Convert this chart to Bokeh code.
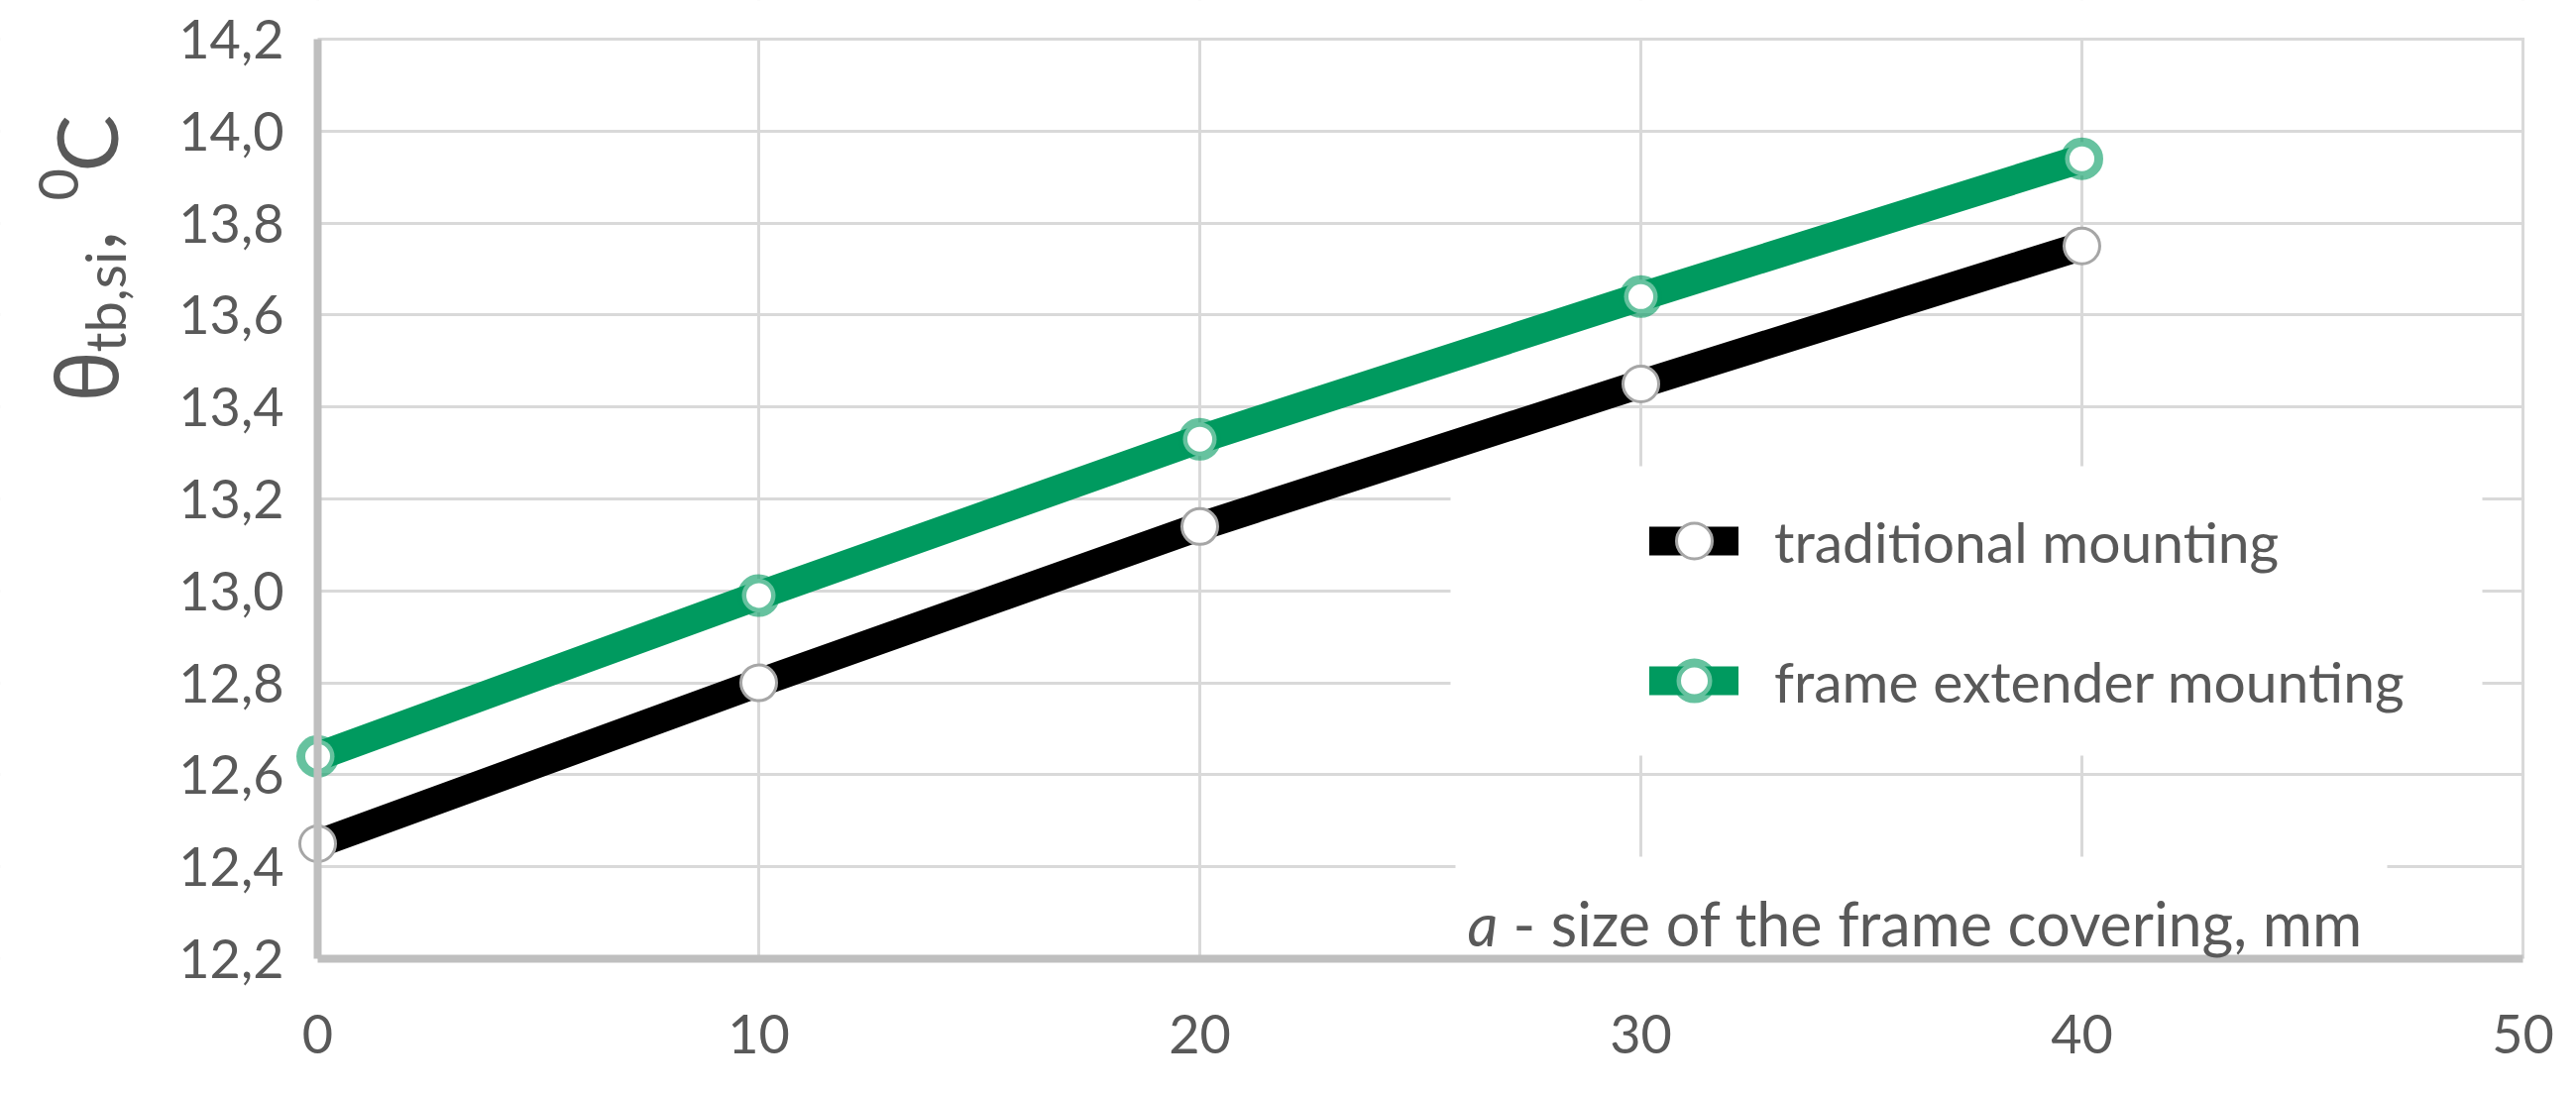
import math
from bokeh.plotting import figure
from bokeh.models import FixedTicker, CustomJSTickFormatter, Label, BoxAnnotation
from bokeh.embed import file_html
from bokeh.resources import INLINE

# ---- data ----
size_mm = [0, 10, 20, 30, 40]
theta_traditional = [12.45, 12.80, 13.14, 13.45, 13.75]
theta_extender = [12.64, 12.99, 13.33, 13.64, 13.94]
series_labels = ["traditional mounting", "frame extender mounting"]
x_ticks = [0, 10, 20, 30, 40, 50]
y_ticks = [12.2, 12.4, 12.6, 12.8, 13.0, 13.2, 13.4, 13.6, 13.8, 14.0, 14.2]
x_title = "- size of the frame covering, mm"

# ---- layout (page pixels of the value box) ----
W, H = 2580, 1088
OFF = 8
PX_L, PX_R, PY_T, PY_B = 328, 2553, 47, 975     # x=0, x=50, y=14.2, y=12.2
XA, XB, YA, YB = 0, 50, 12.2, 14.2
ux = (PX_R - PX_L) / (XB - XA)
uy = (PY_B - PY_T) / (YB - YA)
XMIN = XA - (PX_L - OFF) / ux
XMAX = XB + (OFF + W - PX_R) / ux
YMAX = YB + (PY_T - OFF) / uy
YMIN = YA - (OFF + H - PY_B) / uy

def dx(px):
    return XA + (px - PX_L) / ux

def dy(py):
    return YB - (py - PY_T) / uy

TXT = "#595959"
FONT = "Lato"

p = figure(width=W, height=H, x_range=(XMIN, XMAX), y_range=(YMIN, YMAX),
           output_backend="svg", toolbar_location=None,
           min_border_left=0, min_border_right=0, min_border_top=0, min_border_bottom=0)
p.outline_line_color = None
p.background_fill_color = "white"
p.border_fill_color = "white"

for ax, ticks in ((p.xaxis, x_ticks), (p.yaxis, y_ticks)):
    ax.ticker = FixedTicker(ticks=ticks)
    ax.axis_line_color = "#BFBFBF"
    ax.axis_line_width = 8
    ax.major_tick_in = 0
    ax.major_tick_out = 0
    ax.minor_tick_in = 0
    ax.minor_tick_out = 0
    ax.major_label_text_font = FONT
    ax.major_label_text_font_size = "54px"
    ax.major_label_text_color = TXT
p.yaxis.formatter = CustomJSTickFormatter(code="return tick.toFixed(1).replace('.', ',');")
p.yaxis.fixed_location = XA
p.xaxis.fixed_location = YA
p.xaxis.bounds = (XA, XB)
p.yaxis.bounds = (YA, YB)
p.xaxis.major_label_standoff = 56
p.yaxis.major_label_standoff = 34

p.xgrid.ticker = FixedTicker(ticks=x_ticks)
p.ygrid.ticker = FixedTicker(ticks=y_ticks)
for g in (p.xgrid, p.ygrid):
    g.grid_line_color = "#D9D9D9"
    g.grid_line_width = 3

def white_box(left, right, top, bottom):
    p.add_layout(BoxAnnotation(left=left, right=right, top=top, bottom=bottom,
                               fill_color="white", fill_alpha=1, line_color=None,
                               level="underlay"))

e = 1.6  # px
# hide gridlines outside the value box
white_box(XMIN - 1, XA, YMAX + 1, YMIN - 1)
white_box(XB + e / ux, XMAX + 1, YMAX + 1, YMIN - 1)
white_box(XMIN - 1, XMAX + 1, YMAX + 1, YB + e / uy)
white_box(XMIN - 1, XMAX + 1, YA, YMIN - 1)
# behind legend and axis title
white_box(dx(1471), dx(2512), dy(478), dy(770))
white_box(dx(1476), dx(2416), dy(872), YA)

# series
p.line(size_mm, theta_traditional, line_color="black", line_width=29,
       line_cap="round", line_join="round", legend_label=series_labels[0])
p.scatter(size_mm, theta_traditional, marker="circle", size=36, fill_color="white",
          line_color="#A6A6A6", line_width=3, legend_label=series_labels[0])
p.line(size_mm, theta_extender, line_color="#009a5f", line_width=29,
       line_cap="round", line_join="round", legend_label=series_labels[1])
p.scatter(size_mm, theta_extender, marker="circle", size=34, fill_color="white",
          line_color="#009a5f", line_alpha=0.6, line_width=9, legend_label=series_labels[1])

lg = p.legend[0]
lg.location = (1672 - OFF, int(OFF + H - 741.5))
lg.glyph_width = 90
lg.glyph_height = 95
lg.label_height = 95
lg.label_standoff = 36
lg.spacing = 46
lg.padding = 0
lg.margin = 0
lg.border_line_color = None
lg.background_fill_alpha = 0
lg.label_text_font = FONT
lg.label_text_font_size = "57px"
lg.label_text_color = TXT

# axis title inside plot
p.add_layout(Label(x=dx(1488), y=dy(939), text="a", text_font=FONT,
                   text_font_style="italic", text_font_size="60px", text_color=TXT,
                   text_align="left", text_baseline="alphabetic"))
p.add_layout(Label(x=dx(1534), y=dy(939), text=x_title, text_font=FONT,
                   text_font_size="61px", text_color=TXT,
                   text_align="left", text_baseline="alphabetic"))

# rotated y title: θ_{tb,si}, ⁰C
pieces = [
    ("θ", "Noto Sans", "86px", 93, 413),
    ("tb,si", FONT, "56px", 113, 363),
    (",", FONT, "86px", 93, 260),
    ("0", FONT, "56px", 66, 210),
    ("C", FONT, "86px", 93, 181),
]
for txt, fnt, fs, bx, sy in pieces:
    p.add_layout(Label(x=dx(bx), y=dy(sy), text=txt, text_font=fnt,
                       text_font_size=fs, text_color=TXT, angle=math.pi / 2,
                       text_align="left", text_baseline="alphabetic"))

open("out.html", "w").write(file_html(p, INLINE))
